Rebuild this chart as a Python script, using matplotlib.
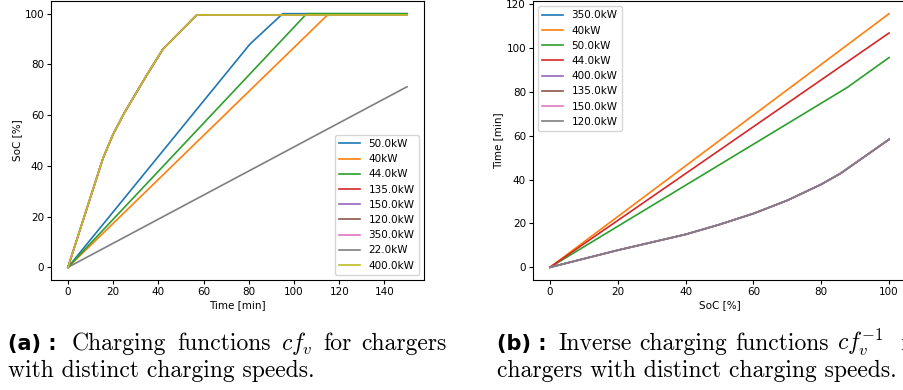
import numpy as np
import matplotlib.pyplot as plt

plt.rcParams['mathtext.fontset'] = 'cm'

# (a) charging functions: SoC [%] over time [min]
t_fast = [0, 15.5, 20, 25, 30, 35, 42, 57, 150]
soc_fast = [0, 43, 52.5, 61, 68.5, 76, 86, 99.5, 99.5]
t_50 = [0, 80.5, 95, 150]
soc_50 = [0, 88, 100, 100]
t_44 = [0, 105.6, 150]
soc_44 = [0, 100, 100]
t_40 = [0, 114.8, 150]
soc_40 = [0, 99.5, 99.5]
t_22 = [0, 150]
soc_22 = [0, 71.2]

# (b) inverse charging functions: time [min] over SoC [%]
soc_inv_fast = [0, 20, 40, 50, 60, 70, 80, 85.7, 100]
t_inv_fast = [0, 7.8, 15, 19.5, 24.5, 30.5, 37.8, 42.8, 58.3]
soc_inv_50 = [0, 87.6, 100]
t_inv_50 = [0, 81.9, 95.6]
soc_inv_44 = [0, 100]
t_inv_44 = [0, 106.8]
soc_inv_40 = [0, 100]
t_inv_40 = [0, 115.6]

series_a = [
    ('50.0kW', t_50, soc_50),
    ('40kW', t_40, soc_40),
    ('44.0kW', t_44, soc_44),
    ('135.0kW', t_fast, soc_fast),
    ('150.0kW', t_fast, soc_fast),
    ('120.0kW', t_fast, soc_fast),
    ('350.0kW', t_fast, soc_fast),
    ('22.0kW', t_22, soc_22),
    ('400.0kW', t_fast, soc_fast),
]
series_b = [
    ('350.0kW', soc_inv_fast, t_inv_fast),
    ('40kW', soc_inv_40, t_inv_40),
    ('50.0kW', soc_inv_50, t_inv_50),
    ('44.0kW', soc_inv_44, t_inv_44),
    ('400.0kW', soc_inv_fast, t_inv_fast),
    ('135.0kW', soc_inv_fast, t_inv_fast),
    ('150.0kW', soc_inv_fast, t_inv_fast),
    ('120.0kW', soc_inv_fast, t_inv_fast),
]

W, H = 904, 390
fig = plt.figure(figsize=(W / 100, H / 100), dpi=100)

ax_a = fig.add_axes([51 / W, (H - 280) / H, 373 / W, 279 / H])
ax_b = fig.add_axes([533 / W, (H - 280) / H, 373 / W, 279 / H])

for ax, series, xlabel, ylabel, loc in [
        (ax_a, series_a, 'Time [min]', 'SoC [%]', 'lower right'),
        (ax_b, series_b, 'SoC [%]', 'Time [min]', 'upper left')]:
    for label, x, y in series:
        ax.plot(x, y, label=label, lw=1.2)
    ax.set_xlabel(xlabel, fontsize=7.5, labelpad=2)
    ax.set_ylabel(ylabel, fontsize=7.5, labelpad=2)
    ax.tick_params(labelsize=7.5, length=3, pad=2)
    ax.legend(loc=loc, fontsize=7.5)

ax_a.set_xticks(np.arange(0, 141, 20))
ax_a.set_yticks(np.arange(0, 101, 20))
ax_b.set_xticks(np.arange(0, 101, 20))
ax_b.set_yticks(np.arange(0, 121, 20))

# sub-captions, first lines justified to the column width
bold_kw = dict(family='DejaVu Sans', weight='bold', fontsize=15)
serif_kw = dict(family='cmr10', fontsize=17)
renderer = fig.canvas.get_renderer()


def justified(x0, x1, y, words):
    texts = [fig.text(0, 1 - y / H, w, **serif_kw) for w in words]
    widths = [t.get_window_extent(renderer).width for t in texts]
    gap = (x1 - x0 - sum(widths)) / (len(words) - 1)
    x = x0
    for t, w in zip(texts, widths):
        t.set_x(x / W)
        x += w + gap


fig.text(8 / W, 1 - 350 / H, '(a) :', **bold_kw)
justified(72, 447, 350, ['Charging', 'functions', r'$cf_v$', 'for', 'chargers'])
fig.text(8 / W, 1 - 377 / H, 'with distinct charging speeds.', **serif_kw)

fig.text(497 / W, 1 - 350 / H, '(b) :', **bold_kw)
justified(558, 884, 350, ['Inverse', 'charging', 'functions', r'$cf_v^{-1}$'])
fig.text(900 / W, 1 - 350 / H, 'for', **serif_kw)
fig.text(497 / W, 1 - 377 / H, 'chargers with distinct charging speeds.', **serif_kw)

fig.savefig('out.png', dpi=100)
